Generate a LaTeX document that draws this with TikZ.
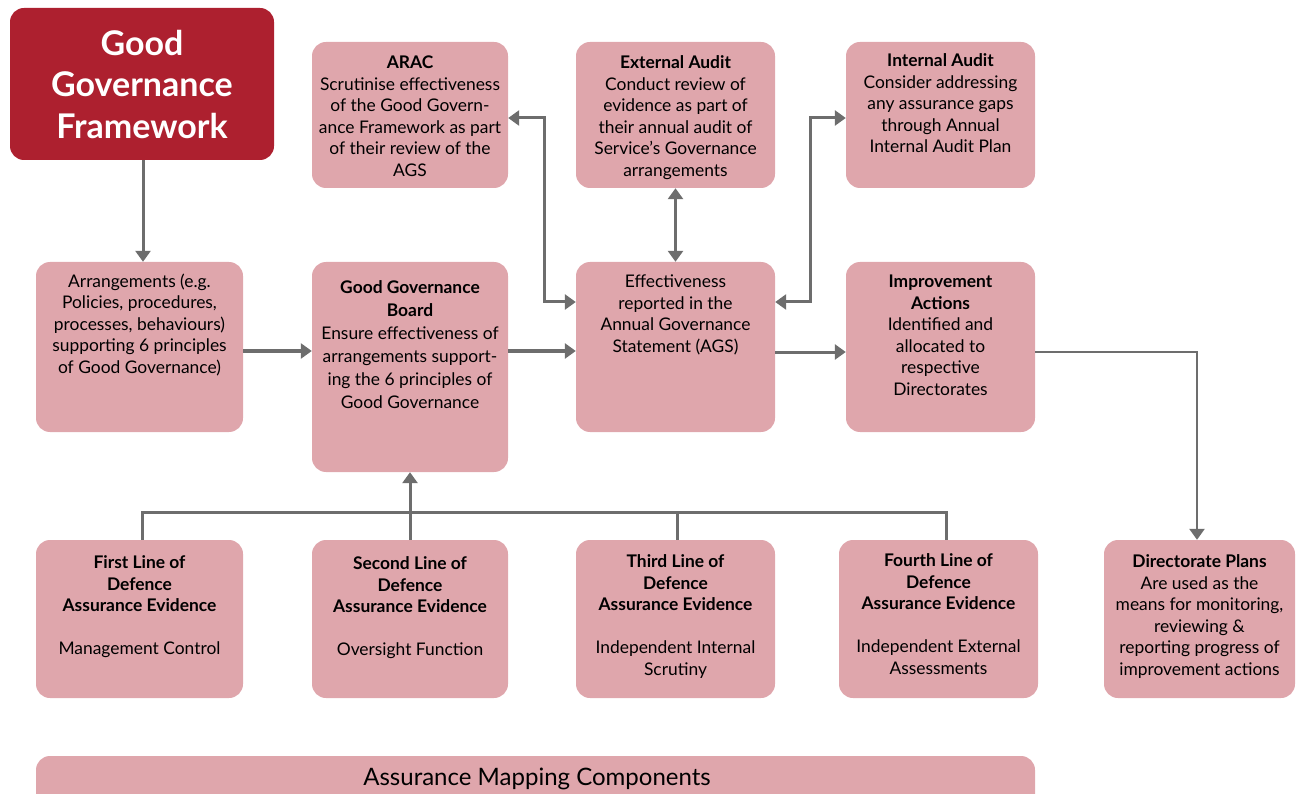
\documentclass[tikz,border=0pt]{standalone}
\usepackage{fontspec}
\setmainfont{Lato}
\usetikzlibrary{arrows.meta}
\definecolor{boxpink}{HTML}{DFA6AC}
\definecolor{gfred}{HTML}{AD202F}
\definecolor{linegray}{HTML}{6D6D6D}
\tikzset{
  box/.style={fill=boxpink, draw=none, rounded corners=14pt, inner sep=0pt},
  txt/.style={align=center, inner sep=0pt, text=black,
    font=\fontsize{17.4}{21.5}\selectfont},
  link/.style={draw=linegray, line width=3pt,
    -{Triangle[width=15pt,length=11pt]}},
  both/.style={draw=linegray, line width=3pt,
    {Triangle[width=15pt,length=11pt]}-{Triangle[width=15pt,length=11pt]}},
  plain/.style={draw=linegray, line width=3pt},
}
% box from (x1,y1) to (x2,y2) in pixel-like units, y growing downwards
\newcommand{\pbox}[6][box]{%
  \node[#1, minimum width={(#5-#3)*1pt}, minimum height={(#6-#4)*1pt}]
    (#2) at ({(#3+#5)/2}, {(#4+#6)/2}) {};}
\begin{document}
\begin{tikzpicture}[x=1pt, y=-1pt]
\useasboundingbox (0,0) rectangle (1296,794);

% ---------- boxes ----------
\pbox[box, fill=gfred]{ggf}{10}{8}{274}{160}
\pbox{arac}{312}{42}{508}{188}
\pbox{ext}{576}{42}{775}{188}
\pbox{int}{846}{42}{1035}{188}
\pbox{arr}{36}{262}{243}{432}
\pbox{ggb}{312}{262}{508}{472}
\pbox{eff}{576}{262}{775}{432}
\pbox{imp}{846}{262}{1035}{432}
\pbox{l1}{36}{540}{243}{698}
\pbox{l2}{312}{540}{508}{698}
\pbox{l3}{576}{540}{775}{698}
\pbox{l4}{839}{540}{1038}{698}
\pbox{dir}{1104}{540}{1295}{698}
\pbox{amc}{36}{756}{1035}{810}

% ---------- texts ----------
\node[txt, text=white, anchor=north, font=\fontsize{34}{41.5}\selectfont\bfseries]
  (ggf-t) at ([yshift=-22pt]ggf.north) {Good\\Governance\\Framework};

\node[txt, anchor=north] (arac-t) at ([yshift=-14pt]arac.north)
  {\textbf{ARAC}\\Scrutinise effectiveness\\of the Good Govern-\\ance Framework as part\\of their review of the\\AGS};
\node[txt, anchor=north] (ext-t) at ([yshift=-14pt]ext.north)
  {\textbf{External Audit}\\Conduct review of\\evidence as part of\\their annual audit of\\Service’s Governance\\arrangements};
\node[txt, anchor=north] (int-t) at ([yshift=-12pt]int.north)
  {\textbf{Internal Audit}\\Consider addressing\\any assurance gaps\\through Annual\\Internal Audit Plan};

\node[txt, anchor=north] (arr-t) at ([yshift=-12pt]arr.north)
  {Arrangements (e.g.\\Policies, procedures,\\processes, behaviours)\\supporting 6 principles\\of Good Governance)};
\node[txt, anchor=north, font=\fontsize{17.4}{23}\selectfont] (ggb-t) at ([yshift=-19pt]ggb.north)
  {\textbf{Good Governance}\\\textbf{Board}\\Ensure effectiveness of\\arrangements support-\\ing the 6 principles of\\Good Governance};
\node[txt, anchor=north] (eff-t) at ([yshift=-13pt]eff.north)
  {Effectiveness\\reported in the\\Annual Governance\\Statement (AGS)};
\node[txt, anchor=north] (imp-t) at ([yshift=-13pt]imp.north)
  {\textbf{Improvement}\\\textbf{Actions}\\Identified and\\allocated to\\respective\\Directorates};

\node[txt, anchor=north] (l1-t) at ([yshift=-16pt]l1.north)
  {\textbf{First Line of}\\\textbf{Defence}\\\textbf{Assurance Evidence}\\[21.5pt]Management Control};
\node[txt, anchor=north] (l2-t) at ([yshift=-17pt]l2.north)
  {\textbf{Second Line of}\\\textbf{Defence}\\\textbf{Assurance Evidence}\\[21.5pt]Oversight Function};
\node[txt, anchor=north] (l3-t) at ([yshift=-15pt]l3.north)
  {\textbf{Third Line of}\\\textbf{Defence}\\\textbf{Assurance Evidence}\\[21.5pt]Independent Internal\\Scrutiny};
\node[txt, anchor=north] (l4-t) at ([yshift=-14pt]l4.north)
  {\textbf{Fourth Line of}\\\textbf{Defence}\\\textbf{Assurance Evidence}\\[21.5pt]Independent External\\Assessments};
\node[txt, anchor=north] (dir-t) at ([yshift=-15pt]dir.north)
  {\textbf{Directorate Plans}\\Are used as the\\means for monitoring,\\reviewing \&\\reporting progress of\\improvement actions};

\node[txt, font=\fontsize{24}{26}\selectfont] (amc-t) at (537,779)
  {Assurance Mapping Components};

% ---------- connectors ----------
\draw[link] (ggf.south -| 143,0) -- (arr.north -| 143,0);
\draw[link] (arr.east |- 0,351) -- (ggb.west |- 0,351);
\draw[link] (ggb.east |- 0,351) -- (eff.west |- 0,351);
\draw[link] (eff.east |- 0,352) -- (imp.west |- 0,352);

\draw[both] (arac.east |- 0,118) -| (544,302) -- (eff.west |- 0,302);
\draw[both] (ext.south) -- (eff.north);
\draw[both] (eff.east |- 0,302) -| (810,118) -- (int.west |- 0,118);

\coordinate (turn) at (1197,352);
\draw[draw=linegray, line width=2.5pt, -{Triangle[width=15pt,length=11pt]}]
  (imp.east |- turn) -- (turn) -- (dir.north -| turn);

% evidence bus feeding the board
\coordinate (busL) at (142,512);
\coordinate (busR) at (946,512);
\draw[plain] (l1.north -| busL) -- (busL) -- (busR) -- (l4.north -| busR);
\draw[plain] (l3.north -| 677,0) -- (677,512);
\draw[link] (l2.north -| 410,0) -- (ggb.south -| 410,0);
\end{tikzpicture}
\end{document}
